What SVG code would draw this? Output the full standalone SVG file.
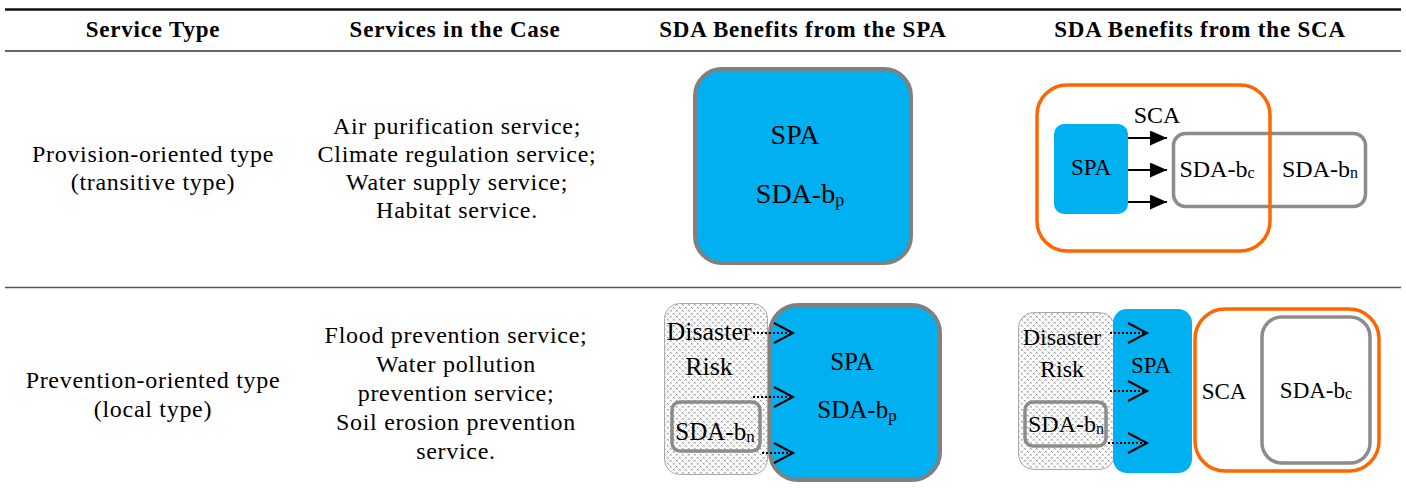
<svg xmlns="http://www.w3.org/2000/svg" width="1406" height="500" viewBox="0 0 1406 500">
<style>
.hdr{font-family:"Liberation Serif","Times New Roman",serif;font-weight:bold;font-size:23px;letter-spacing:0.8px;text-anchor:middle;fill:#000}
.body{font-family:"Liberation Serif","Times New Roman",serif;font-size:24px;letter-spacing:0.7px;text-anchor:middle;fill:#000}
.lbl{font-family:"Liberation Serif","Times New Roman",serif;text-anchor:middle;fill:#000}
.blue{fill:#00B0F0}
.bluebox{fill:#00B0F0;stroke:#808080;stroke-width:4}
.gray{fill:none;stroke:#8C8C8C;stroke-width:3.5}
.orange{fill:none;stroke:#FF6600;stroke-width:3.5}
.dotted{fill:url(#dots);stroke:#AAAAAA;stroke-width:1}
.solid{stroke:#000;stroke-width:2;fill:none;marker-end:url(#tri)}
.dash{stroke:#000;stroke-width:2;stroke-dasharray:2 2;fill:none;marker-end:url(#chev)}
</style>
<defs>
<pattern id="dots" width="6" height="6" patternUnits="userSpaceOnUse">
<rect width="6" height="6" fill="#FFFFFF"/>
<path d="M0.8,0.8 L2.6,2.6 M2.6,0.8 L0.8,2.6 M3.8,3.8 L5.6,5.6 M5.6,3.8 L3.8,5.6" stroke="#888888" stroke-width="0.8"/>
</pattern>
<marker id="tri" markerUnits="userSpaceOnUse" markerWidth="17" markerHeight="15" viewBox="0 0 17 15" refX="17" refY="7.5" orient="auto">
<path d="M0,0 L17,7.5 L0,15 Z" fill="#000"/>
</marker>
<marker id="chev" markerUnits="userSpaceOnUse" markerWidth="24" markerHeight="24" viewBox="0 0 24 24" refX="21" refY="12" orient="auto">
<path d="M2,2 L21,12 L2,22" fill="none" stroke="#000" stroke-width="2"/>
</marker>
</defs>
<rect width="1406" height="500" fill="#FFFFFF"/>

<g id="table-rules">
<line x1="5" y1="9.5" x2="1401" y2="9.5" stroke="#111" stroke-width="2.5"/>
<line x1="5" y1="51" x2="1401" y2="51" stroke="#666" stroke-width="2"/>
<line x1="5" y1="287.5" x2="1401" y2="287.5" stroke="#555" stroke-width="1.5"/>
</g>

<g id="header">
<text class="hdr" x="153" y="37">Service Type</text>
<text class="hdr" x="455" y="37">Services in the Case</text>
<text class="hdr" x="803" y="37">SDA Benefits from the SPA</text>
<text class="hdr" x="1200" y="37">SDA Benefits from the SCA</text>
</g>

<g id="row1-type">
<text class="body" x="153" y="162">Provision-oriented type</text>
<text class="body" x="153" y="190">(transitive type)</text>
</g>
<g id="row1-services">
<text class="body" x="457" y="134">Air purification service;</text>
<text class="body" x="457" y="162">Climate regulation service;</text>
<text class="body" x="457" y="190">Water supply service;</text>
<text class="body" x="457" y="218">Habitat service.</text>
</g>

<g id="row1-spa">
<rect class="bluebox" x="695" y="69" width="216" height="194" rx="27"/>
<text class="lbl" x="795" y="144" font-size="28">SPA</text>
<text class="lbl" x="800" y="203" font-size="28">SDA-b<tspan font-size="18" dy="3">p</tspan></text>
</g>

<g id="row1-sca">
<rect id="r1-sdab" class="gray" x="1173.5" y="133.5" width="192" height="73" rx="12"/>
<rect id="r1-sca" class="orange" x="1037" y="85" width="233" height="166" rx="30"/>
<rect id="r1-spa" class="blue" x="1054" y="124" width="74" height="90" rx="10"/>
<text class="lbl" x="1091" y="175" font-size="23">SPA</text>
<text class="lbl" x="1157" y="123" font-size="24">SCA</text>
<text class="lbl" x="1217" y="177" font-size="24">SDA-b<tspan font-size="16" dy="1">c</tspan></text>
<text class="lbl" x="1320" y="177" font-size="24">SDA-b<tspan font-size="16" dy="1">n</tspan></text>
</g>

<g id="row2-type">
<text class="body" x="153" y="388">Prevention-oriented type</text>
<text class="body" x="153" y="417">(local type)</text>
</g>
<g id="row2-services">
<text class="body" x="456" y="343">Flood prevention service;</text>
<text class="body" x="456" y="372">Water pollution</text>
<text class="body" x="456" y="401">prevention service;</text>
<text class="body" x="456" y="430">Soil erosion prevention</text>
<text class="body" x="456" y="459">service.</text>
</g>

<g id="row2-spa">
<rect id="r2a-risk" class="dotted" x="664.5" y="303.5" width="103" height="171" rx="15"/>
<rect id="r2a-spa" class="bluebox" x="770" y="305" width="170" height="175" rx="28"/>
<rect id="r2a-sdabn" class="gray" x="672" y="402" width="88" height="49" rx="8" stroke-width="4" stroke="#808080"/>
<text class="lbl" x="709" y="340" font-size="26">Disaster</text>
<text class="lbl" x="709" y="375" font-size="26">Risk</text>
<text class="lbl" x="715" y="440" font-size="25">SDA-b<tspan font-size="17" dy="2">n</tspan></text>
<text class="lbl" x="852" y="370" font-size="25">SPA</text>
<text class="lbl" x="857" y="418" font-size="25">SDA-b<tspan font-size="17" dy="3">p</tspan></text>
</g>

<g id="row2-sca">
<rect id="r2b-risk" class="dotted" x="1018.5" y="312.5" width="96" height="157" rx="15"/>
<rect id="r2b-spa" class="blue" x="1113" y="309" width="79" height="164" rx="14"/>
<rect id="r2b-sca" class="orange" x="1195" y="309" width="184" height="162" rx="30"/>
<rect id="r2b-sdabc" class="gray" x="1262" y="317" width="108" height="146" rx="20" stroke-width="4"/>
<rect id="r2b-sdabn" class="gray" x="1025" y="402" width="81" height="44" rx="8" stroke-width="4" stroke="#808080"/>
<text class="lbl" x="1062" y="345" font-size="24">Disaster</text>
<text class="lbl" x="1062" y="377" font-size="24">Risk</text>
<text class="lbl" x="1066" y="432" font-size="24">SDA-b<tspan font-size="16" dy="2">n</tspan></text>
<text class="lbl" x="1151" y="373" font-size="23">SPA</text>
<text class="lbl" x="1224" y="399" font-size="23">SCA</text>
<text class="lbl" x="1316" y="398" font-size="23">SDA-b<tspan font-size="16" dy="1">c</tspan></text>
</g>

<g id="connectors">
<line class="solid" x1="1128" y1="138" x2="1167" y2="138"/>
<line class="solid" x1="1128" y1="170" x2="1167" y2="170"/>
<line class="solid" x1="1128" y1="202" x2="1167" y2="202"/>
<line class="dash" x1="753" y1="333" x2="793" y2="333"/>
<line class="dash" x1="753" y1="397" x2="793" y2="397"/>
<line class="dash" x1="762" y1="453" x2="793" y2="453"/>
<line class="dash" x1="1110" y1="333" x2="1147" y2="333"/>
<line class="dash" x1="1110" y1="391" x2="1147" y2="391"/>
<line class="dash" x1="1108" y1="443" x2="1147" y2="443"/>
</g>
</svg>
